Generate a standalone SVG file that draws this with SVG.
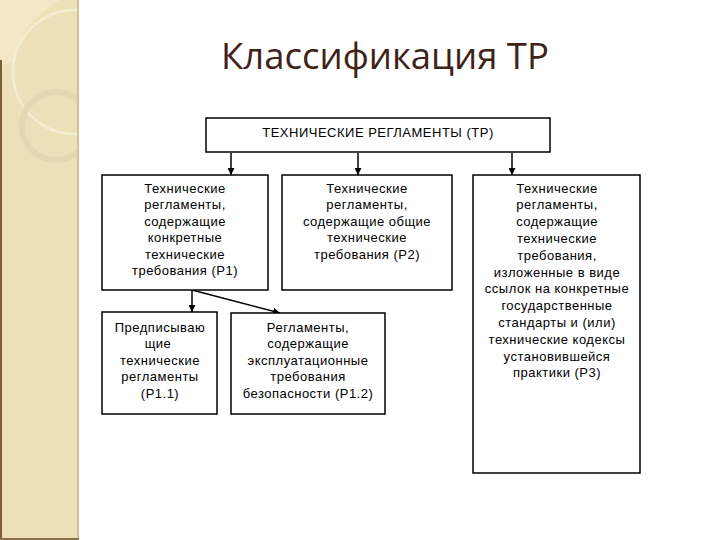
<svg xmlns="http://www.w3.org/2000/svg" width="720" height="540" viewBox="0 0 720 540">
<style>
.box{fill:#fff;stroke:#000;stroke-width:1.5}
.t{font-family:"Liberation Sans",Arial,sans-serif;font-size:13px;letter-spacing:0.5px;fill:#000;text-anchor:middle}
.c{stroke:#000;stroke-width:1.5;fill:none}
</style>
<defs>
<marker id="ah2" viewBox="0 0 10 10" refX="10" refY="5" markerWidth="7" markerHeight="7" orient="auto" markerUnits="userSpaceOnUse">
<path d="M0,0 L10,5 L0,10 z" fill="#000"/>
</marker>
<clipPath id="sb"><rect x="0" y="0" width="77" height="540"/></clipPath>
</defs>
<rect width="720" height="540" fill="#fff"/>
<g id="sidebar">
<rect x="0" y="0" width="79" height="540" fill="#EDE0B9"/>
<g clip-path="url(#sb)">
<path d="M0,0 H60 C35,15 18,35 12,62 L0,66 Z" fill="#F2E8C8"/>
<circle cx="75" cy="72" r="62" fill="none" stroke="#F5EDD3" stroke-width="2.5"/>
<circle cx="56" cy="126" r="34" fill="none" stroke="#E4D7B1" stroke-width="6"/>
</g>
<rect x="0" y="60" width="2" height="480" fill="#7A5C36"/>
<rect x="77" y="0" width="2" height="540" fill="#D4C196"/>
<rect x="0" y="538" width="79" height="2" fill="#8A6E45"/>
</g>
<text x="385" y="69" font-family="'Open Sans','Noto Sans',sans-serif" font-size="36.5" fill="#3F2319" text-anchor="middle">Классификация ТР</text>
<g id="connectors">
<line class="c" x1="231" y1="153" x2="231" y2="175" marker-end="url(#ah2)"/>
<line class="c" x1="358" y1="153" x2="358" y2="175" marker-end="url(#ah2)"/>
<line class="c" x1="512" y1="153" x2="512" y2="175" marker-end="url(#ah2)"/>
<line class="c" x1="192" y1="290" x2="192" y2="312" marker-end="url(#ah2)"/>
<line class="c" x1="192" y1="290" x2="280" y2="313" marker-end="url(#ah2)"/>
</g>
<g id="tr">
<rect class="box" x="206" y="118" width="344" height="34"/>
<text class="t" x="378" y="137">ТЕХНИЧЕСКИЕ РЕГЛАМЕНТЫ (ТР)</text>
</g>
<g id="p1">
<rect class="box" x="102" y="175" width="166" height="115"/>
<text class="t" x="185" y="192.5">Технические</text>
<text class="t" x="185" y="209">регламенты,</text>
<text class="t" x="185" y="225.5">содержащие</text>
<text class="t" x="185" y="242">конкретные</text>
<text class="t" x="185" y="258.5">технические</text>
<text class="t" x="185" y="275">требования (Р1)</text>
</g>
<g id="p2">
<rect class="box" x="282" y="175" width="170" height="115"/>
<text class="t" x="367" y="192.5">Технические</text>
<text class="t" x="367" y="209">регламенты,</text>
<text class="t" x="367" y="225.5">содержащие общие</text>
<text class="t" x="367" y="242">технические</text>
<text class="t" x="367" y="258.5">требования (Р2)</text>
</g>
<g id="p3">
<rect class="box" x="473" y="175" width="167" height="298"/>
<text class="t" x="557" y="192.5">Технические</text>
<text class="t" x="557" y="209.3">регламенты,</text>
<text class="t" x="557" y="226.1">содержащие</text>
<text class="t" x="557" y="242.9">технические</text>
<text class="t" x="557" y="259.7">требования,</text>
<text class="t" x="557" y="276.5">изложенные в виде</text>
<text class="t" x="557" y="293.3">ссылок на конкретные</text>
<text class="t" x="557" y="310.1">государственные</text>
<text class="t" x="557" y="326.9">стандарты и (или)</text>
<text class="t" x="557" y="343.7">технические кодексы</text>
<text class="t" x="557" y="360.5">установившейся</text>
<text class="t" x="557" y="377.3">практики (Р3)</text>
</g>
<g id="p11">
<rect class="box" x="102" y="312" width="115" height="102"/>
<text class="t" x="160" y="331.5">Предписываю</text>
<text class="t" x="158" y="348">щие</text>
<text class="t" x="160" y="364.5">технические</text>
<text class="t" x="160" y="381">регламенты</text>
<text class="t" x="160" y="397.5">(Р1.1)</text>
</g>
<g id="p12">
<rect class="box" x="231" y="313" width="154" height="101"/>
<text class="t" x="308" y="331.5">Регламенты,</text>
<text class="t" x="308" y="348">содержащие</text>
<text class="t" x="308" y="364.5">эксплуатационные</text>
<text class="t" x="308" y="381">требования</text>
<text class="t" x="308" y="397.5">безопасности (Р1.2)</text>
</g>
</svg>
